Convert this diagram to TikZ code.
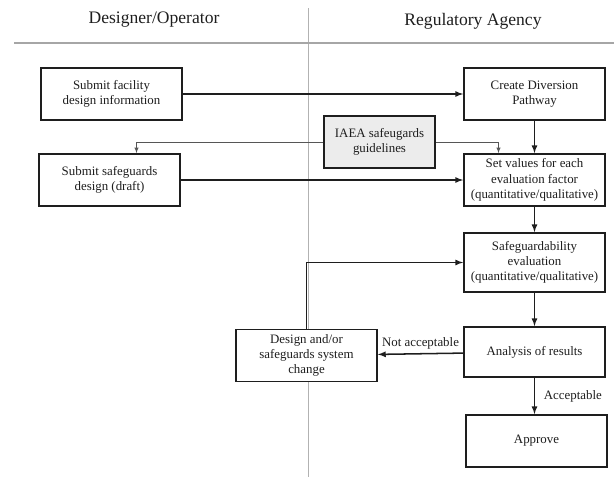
\documentclass[tikz,border=0pt]{standalone}
\usepackage{fontspec}
\setmainfont{Liberation Serif}
\usepackage{tikz}
\usetikzlibrary{arrows}
\definecolor{ink}{RGB}{30,30,30}
\tikzstyle{stage}=[draw=ink,line width=1.5pt,fill=white,text=ink,align=center,minimum width=4.23cm,minimum height=1.56cm,inner sep=0.5pt,font=\fontsize{11}{13}\selectfont]
\tikzstyle{lane}=[font=\fontsize{15}{18}\selectfont,text=ink]
\tikzstyle{flow}=[->,line width=1.3pt,draw=ink]
\tikzstyle{guide}=[->,line width=0.6pt,draw=ink!75]

\begin{document}
\begin{tikzpicture}[x=0.03cm,y=-0.03cm,>=latex]
\useasboundingbox (0,0) rectangle (614,477);

\draw[gray!60, line width=0.7pt] (308,8) -- (308,477);
\draw[gray!70, line width=1pt] (14,43) -- (614,43);

\node[lane] (designer)  at (154,20) {Designer/Operator};
\node[lane] (regulator) at (473,21) {Regulatory Agency};

\node[stage] (facility)  at (111.5,94) {Submit facility\\design information};
\node[stage] (sgdesign)  at (109.5,180)  {Submit safeguards\\design (draft)};
\node[stage, fill=gray!15, minimum width=3.33cm] (iaea) at (379.5,142) {IAEA safeugards\\guidelines};
\node[stage] (diversion) at (534.5,94)   {Create Diversion\\Pathway};
\node[stage] (setvalues) at (534.5,180)  {Set values for each\\evaluation factor\\(quantitative/qualitative)};
\node[stage, minimum height=1.77cm] (sgeval) at (534.5,262.5) {Safeguardability\\evaluation\\(quantitative/qualitative)};
\node[stage, minimum height=1.5cm] (analysis) at (534.5,352) {Analysis of results};
\node[stage] (change)    at (306.5,355.5) {Design and/or\\safeguards system\\change};
\node[stage] (approve)   at (536.5,441)  {Approve};

\draw[flow] (facility) -- (diversion);
\draw[flow] (sgdesign) -- (setvalues);
\draw[guide] (iaea.west) -| ([xshift=0.81cm]sgdesign.north);
\draw[guide] (iaea.east) -| ([xshift=-1.08cm]setvalues.north);
\draw[flow] (diversion) -- (setvalues);
\draw[flow] (setvalues) -- (sgeval);
\draw[flow] (sgeval) -- (analysis);
\draw[flow] (analysis) -- node[above, text=ink, font=\fontsize{11}{12}\selectfont] {Not acceptable} (change);
\draw[flow] (change.north) |- (sgeval.west);
\draw[flow] (analysis.south) -- node[right=4pt, text=ink, font=\fontsize{11}{12}\selectfont] {Acceptable} (analysis.south |- approve.north);

\end{tikzpicture}
\end{document}
